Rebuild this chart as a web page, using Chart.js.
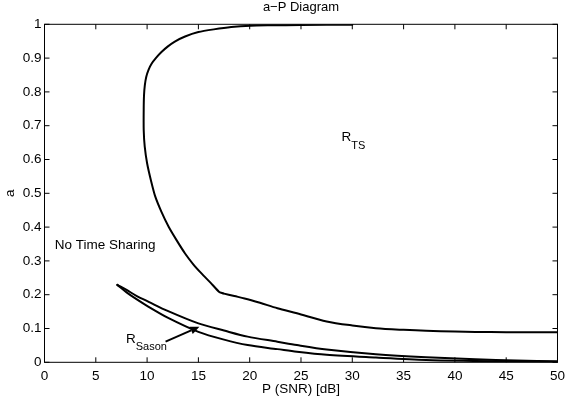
<!DOCTYPE html>
<html>
<head>
<meta charset="utf-8">
<script src="https://cdn.jsdelivr.net/npm/chart.js@4.4.1/dist/chart.umd.min.js"></script>
<style>
  html, body { margin: 0; padding: 0; background: #fff; }
  #wrap { width: 571px; height: 407px; }
</style>
</head>
<body>
<div id="wrap"><canvas id="c" width="571" height="407"></canvas></div>
<script>
// ---- data ----
const xTicks = [0, 5, 10, 15, 20, 25, 30, 35, 40, 45, 50];
const xTickLabels = ['0', '5', '10', '15', '20', '25', '30', '35', '40', '45', '50'];
const yTicks = [0, 0.1, 0.2, 0.3, 0.4, 0.5, 0.6, 0.7, 0.8, 0.9, 1];
const yTickLabels = ['0', '0.1', '0.2', '0.3', '0.4', '0.5', '0.6', '0.7', '0.8', '0.9', '1'];

// R_TS boundary, part 1: from the top edge down to the kink
const tsUpperX = [30, 25, 22, 20.1, 18.2, 16.5, 15.0, 13.7, 12.7, 12.0, 11.4, 10.85, 10.45, 10.15, 9.92, 9.78, 9.7, 9.67, 9.67, 9.77, 10.0, 10.4, 10.8, 11.4, 12.1, 12.9, 13.7, 14.5, 15.3, 16.2, 17.0, 17.4];
const tsUpperY = [0.999, 0.998, 0.997, 0.996, 0.992, 0.985, 0.977, 0.964, 0.949, 0.934, 0.918, 0.9, 0.884, 0.866, 0.845, 0.82, 0.79, 0.75, 0.687, 0.638, 0.589, 0.535, 0.49, 0.445, 0.401, 0.36, 0.322, 0.29, 0.263, 0.235, 0.209, 0.204];
// R_TS boundary, part 2: from the kink to the right edge
const tsLowerX = [17.4, 18.5, 19.5, 21, 22.7, 24.6, 27.5, 30, 32.3, 35, 37.2, 40, 42, 45, 50];
const tsLowerY = [0.204, 0.196, 0.189, 0.176, 0.16, 0.145, 0.121, 0.109, 0.101, 0.096, 0.093, 0.091, 0.09, 0.089, 0.089];

// R_Sason upper and lower curves
const sasonUpperX = [7.1, 8, 9, 10.15, 12, 15, 17.5, 19.8, 22.7, 24.6, 27.5, 32.3, 37.2, 42, 46, 50];
const sasonUpperY = [0.229, 0.214, 0.196, 0.179, 0.152, 0.115, 0.094, 0.076, 0.061, 0.051, 0.038, 0.024, 0.015, 0.009, 0.005, 0.003];
const sasonLowerX = [7.1, 8, 9, 10.15, 12, 15, 17.5, 19.8, 22.7, 24.6, 27.5, 32.3, 37.2, 42, 46, 50];
const sasonLowerY = [0.229, 0.207, 0.186, 0.164, 0.132, 0.09, 0.067, 0.051, 0.039, 0.031, 0.022, 0.014, 0.007, 0.004, 0.002, 0.001];

// annotation arrow (data coordinates)
const arrowX = [11.8, 15.1];
const arrowY = [0.061, 0.105];

// ---- helpers ----
const FONT = '"Liberation Sans", Arial, Helvetica, sans-serif';
function pts(xs, ys) { return xs.map((x, i) => ({ x: x, y: ys[i] })); }
function lineDs(xs, ys, tension) {
  return {
    data: pts(xs, ys), showLine: true, borderColor: '#000', borderWidth: 2,
    pointRadius: 0, pointHoverRadius: 0, tension: tension, fill: false,
    borderJoinStyle: 'round', borderCapStyle: 'round'
  };
}

const decorPlugin = {
  id: 'decor',
  afterDraw(chart) {
    const ctx = chart.ctx;
    const a = chart.chartArea;
    const xs = chart.scales.x, ys = chart.scales.y;
    ctx.save();
    ctx.strokeStyle = '#000';
    ctx.lineWidth = 1;
    // frame
    ctx.strokeRect(a.left, a.top, a.right - a.left, a.bottom - a.top);
    // inward ticks on all sides
    const TL = 5;
    ctx.beginPath();
    xTicks.forEach(v => {
      const p = xs.getPixelForValue(v);
      ctx.moveTo(p, a.bottom); ctx.lineTo(p, a.bottom - TL);
      ctx.moveTo(p, a.top); ctx.lineTo(p, a.top + TL);
    });
    yTicks.forEach(v => {
      const p = ys.getPixelForValue(v);
      ctx.moveTo(a.left, p); ctx.lineTo(a.left + TL, p);
      ctx.moveTo(a.right, p); ctx.lineTo(a.right - TL, p);
    });
    ctx.stroke();

    // title centred over the axes
    ctx.fillStyle = '#000';
    ctx.textAlign = 'center';
    ctx.textBaseline = 'middle';
    ctx.font = '13px ' + FONT;
    ctx.fillText('a\u2212P Diagram', (a.left + a.right) / 2, 7);

    // arrow
    const x0 = xs.getPixelForValue(arrowX[0]), y0 = ys.getPixelForValue(arrowY[0]);
    const x1 = xs.getPixelForValue(arrowX[1]), y1 = ys.getPixelForValue(arrowY[1]);
    const ang = Math.atan2(y1 - y0, x1 - x0);
    const hl = 9, hw = 4;
    const bx = x1 - hl * Math.cos(ang), by = y1 - hl * Math.sin(ang);
    ctx.lineWidth = 2;
    ctx.beginPath(); ctx.moveTo(x0, y0); ctx.lineTo(bx, by); ctx.stroke();
    ctx.beginPath();
    ctx.moveTo(x1, y1);
    ctx.lineTo(bx + hw * Math.sin(ang), by - hw * Math.cos(ang));
    ctx.lineTo(bx - hw * Math.sin(ang), by + hw * Math.cos(ang));
    ctx.closePath(); ctx.fill();

    // text annotations
    ctx.textBaseline = 'middle';
    ctx.textAlign = 'left';
    ctx.font = '13.5px ' + FONT;
    ctx.fillText('No Time Sharing', xs.getPixelForValue(1.0), ys.getPixelForValue(0.345));

    let px = xs.getPixelForValue(28.96), py = ys.getPixelForValue(0.665);
    ctx.font = '13.5px ' + FONT;
    ctx.fillText('R', px, py);
    let w = ctx.measureText('R').width;
    ctx.font = '11px ' + FONT;
    ctx.fillText('TS', px + w, py + 8);

    px = xs.getPixelForValue(7.94); py = ys.getPixelForValue(0.069);
    ctx.font = '13.5px ' + FONT;
    ctx.fillText('R', px, py);
    w = ctx.measureText('R').width;
    ctx.font = '11px ' + FONT;
    ctx.fillText('Sason', px + w, py + 8);
    ctx.restore();
  }
};

new Chart(document.getElementById('c'), {
  type: 'scatter',
  data: {
    datasets: [
      lineDs(tsUpperX, tsUpperY, 0.2),
      lineDs(tsLowerX, tsLowerY, 0.3),
      lineDs(sasonUpperX, sasonUpperY, 0.3),
      lineDs(sasonLowerX, sasonLowerY, 0.3)
    ]
  },
  options: {
    responsive: false,
    animation: false,
    devicePixelRatio: 1,
    layout: { padding: { left: 0, right: 7.7, top: 24.3, bottom: 0 } },
    plugins: {
      legend: { display: false },
      tooltip: { enabled: false },
      title: { display: false }
    },
    scales: {
      x: {
        type: 'linear', min: 0, max: 50,
        afterBuildTicks: s => { s.ticks = xTicks.map(v => ({ value: v })); },
        afterFit: s => { s.height = 44.7; },
        ticks: {
          color: '#000', padding: 6, maxRotation: 0,
          font: { family: FONT, size: 13.5 },
          callback: v => xTickLabels[xTicks.indexOf(v)]
        },
        grid: { display: false, drawTicks: false },
        border: { display: false },
        title: {
          display: true, text: 'P (SNR) [dB]', color: '#000',
          font: { family: FONT, size: 13.5 },
          padding: { top: 0, bottom: 9.7 }
        }
      },
      y: {
        type: 'linear', min: 0, max: 1,
        afterBuildTicks: s => { s.ticks = yTicks.map(v => ({ value: v })); },
        afterFit: s => { s.width = 44.5; },
        ticks: {
          color: '#000', padding: 3,
          font: { family: FONT, size: 13.5 },
          callback: v => yTickLabels[yTicks.findIndex(t => Math.abs(t - v) < 1e-9)]
        },
        grid: { display: false, drawTicks: false },
        border: { display: false },
        title: {
          display: true, text: 'a', color: '#000',
          font: { family: FONT, size: 13.5 },
          padding: { top: 2, bottom: 0 }
        }
      }
    }
  },
  plugins: [decorPlugin]
});
</script>
</body>
</html>
